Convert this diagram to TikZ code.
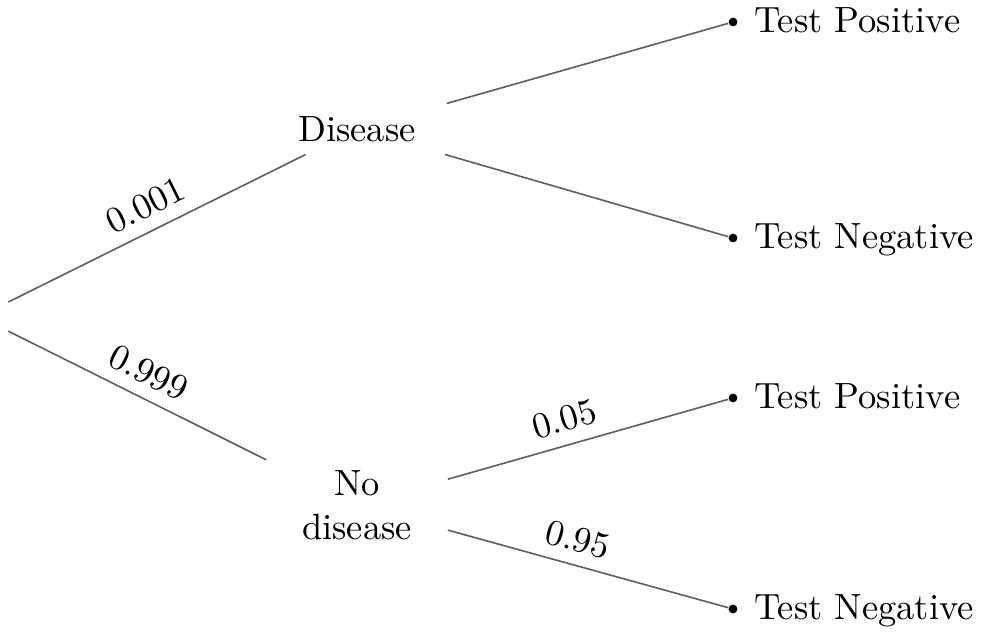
\documentclass[tikz,border=0pt]{standalone}
\usetikzlibrary{positioning}

\tikzset{
  branch/.style={draw=black!62, line width=0.45pt},
  start/.style={minimum width=0.55cm, minimum height=0.5cm, inner sep=0pt},
  event/.style={text width=1.5cm, align=center},
  outcome/.style={circle, fill=black, inner sep=0pt, minimum size=2.4pt},
  outtext/.style={inner sep=0pt, text height=1.6ex, text depth=0.3ex}
}

\begin{document}
\begin{tikzpicture}
  \useasboundingbox (0cm,0cm) rectangle (9.494cm,-6.076cm);
  \node[start] (root) at (-0.202cm,-3.048cm) {};
  \node[event] (dis) at (3.438cm,-1.242cm) {Disease};
  \node[event] (nodis) at (3.438cm,-4.863cm) {No disease};
  \node[outcome] (tp1) at (7.058cm,-0.212cm) {};
  \node[outcome] (tn1) at (7.058cm,-2.292cm) {};
  \node[outcome] (tp2) at (7.058cm,-3.832cm) {};
  \node[outcome] (tn2) at (7.058cm,-5.864cm) {};
  \node[outtext, right=4.3pt of tp1] (tp1t) {Test Positive};
  \node[outtext, right=4.3pt of tn1] (tn1t) {Test Negative};
  \node[outtext, right=4.3pt of tp2] (tp2t) {Test Positive};
  \node[outtext, right=4.3pt of tn2] (tn2t) {Test Negative};
  \draw[branch] (root) -- node[above,sloped] (pdis) {0.001} (dis);
  \draw[branch] (root) -- node[above,sloped] (pnodis) {0.999} (nodis);
  \draw[branch] (dis) -- (tp1);
  \draw[branch] (dis) -- (tn1);
  \draw[branch] (nodis) -- node[above,sloped,pos=0.44] (pfp) {0.05} (tp2);
  \draw[branch] (nodis) -- node[above,sloped,pos=0.44] (ptn) {0.95} (tn2);
\end{tikzpicture}
\end{document}
